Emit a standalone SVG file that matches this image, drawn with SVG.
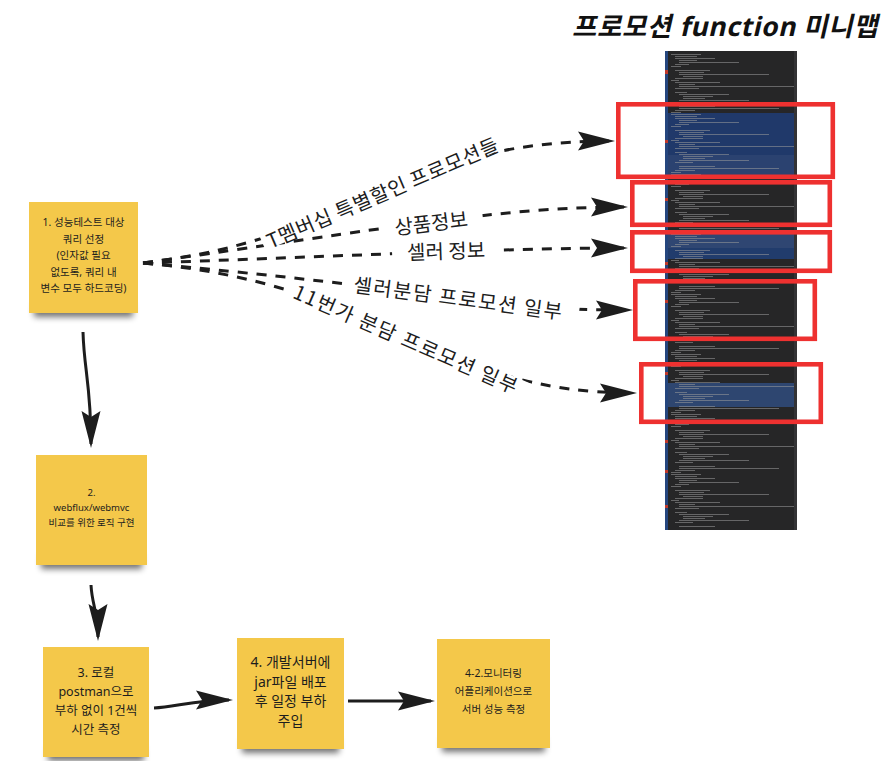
<svg xmlns="http://www.w3.org/2000/svg" width="894" height="761" viewBox="0 0 894 761">
<style>
.note{fill:#F4C84A}
.shadow{fill:#000;opacity:.55;filter:url(#blur)}
.nt{font-family:"Noto Sans","Noto Sans CJK KR",sans-serif;fill:#1d1d1d;text-anchor:middle}
.lbl{font-family:"Noto Sans CJK KR","Noto Sans",sans-serif;font-size:20px;fill:#1d1d1d;text-anchor:middle;dominant-baseline:central}
.lblbg{fill:#fff}
.dash{fill:none;stroke:#1d1d1d;stroke-width:3;stroke-dasharray:10 9;marker-end:url(#ah)}
.solid{fill:none;stroke:#1d1d1d;stroke-width:3;marker-end:url(#ah)}
.red{fill:none;stroke:#EE3130;stroke-width:4.6}
.code{fill:#9a9a9a;opacity:.55}
</style>
<defs>
<filter id="blur" x="-20%" y="-100%" width="140%" height="300%"><feGaussianBlur stdDeviation="3"/></filter>
<marker id="ah" markerUnits="userSpaceOnUse" markerWidth="42" markerHeight="22" refX="36" refY="10" orient="auto" overflow="visible">
<path d="M40,10 L3,0.5 L9,10 L3,19.5 Z" fill="#1d1d1d"/>
</marker>
<pattern id="codepat" patternUnits="userSpaceOnUse" x="667" y="54" width="130" height="60">
<rect class="code" x="4" y="0" width="30" height="1"/>
<rect class="code" x="8" y="2" width="22" height="1"/>
<rect class="code" x="8" y="4" width="40" height="1"/>
<rect class="code" x="12" y="6" width="18" height="1"/>
<rect class="code" x="12" y="8" width="60" height="1"/>
<rect class="code" x="8" y="10" width="14" height="1"/>
<rect class="code" x="4" y="12" width="10" height="1"/>
<rect class="code" x="8" y="16" width="35" height="1"/>
<rect class="code" x="12" y="18" width="25" height="1"/>
<rect class="code" x="12" y="20" width="90" height="1"/>
<rect class="code" x="16" y="22" width="20" height="1"/>
<rect class="code" x="8" y="24" width="28" height="1"/>
<rect class="code" x="4" y="26" width="8" height="1"/>
<rect class="code" x="8" y="28" width="45" height="1"/>
<rect class="code" x="12" y="30" width="16" height="1"/>
<rect class="code" x="12" y="32" width="120" height="1"/>
<rect class="code" x="8" y="34" width="24" height="1"/>
<rect class="code" x="8" y="38" width="12" height="1"/>
<rect class="code" x="12" y="40" width="50" height="1"/>
<rect class="code" x="16" y="42" width="30" height="1"/>
<rect class="code" x="16" y="44" width="22" height="1"/>
<rect class="code" x="12" y="46" width="70" height="1"/>
<rect class="code" x="8" y="48" width="18" height="1"/>
<rect class="code" x="12" y="52" width="36" height="1"/>
<rect class="code" x="12" y="54" width="100" height="1"/>
<rect class="code" x="8" y="56" width="20" height="1"/>
<rect class="code" x="4" y="58" width="10" height="1"/>
</pattern>
</defs>
<rect width="894" height="761" fill="#fff"/>

<!-- minimap -->
<g id="minimap">
<rect x="665" y="51" width="132" height="479" fill="#262627"/>
<rect x="668" y="113" width="126" height="42" fill="#20396a"/>
<rect x="668" y="155" width="126" height="20" fill="#2b4270"/>
<rect x="668" y="233" width="126" height="15" fill="#2f4672"/>
<rect x="668" y="248" width="126" height="11" fill="#213c6c"/>
<rect x="668" y="383" width="126" height="24" fill="#2e4670"/>
<rect x="667" y="53" width="127" height="474" fill="url(#codepat)"/>
<rect x="665" y="51" width="3" height="479" fill="#25467e"/>
<rect x="794" y="51" width="3" height="479" fill="#333335"/>
<rect x="665" y="70" width="3" height="4" fill="#c0392b"/>
<rect x="665" y="140" width="3" height="3" fill="#c0392b"/>
<rect x="665" y="198" width="3" height="3" fill="#c0392b"/>
<rect x="665" y="262" width="3" height="3" fill="#c0392b"/>
<rect x="665" y="300" width="3" height="3" fill="#c0392b"/>
<rect x="665" y="372" width="3" height="3" fill="#c0392b"/>
<rect x="665" y="440" width="3" height="3" fill="#c0392b"/>
<rect x="665" y="470" width="3" height="3" fill="#c0392b"/>
<rect x="665" y="505" width="3" height="3" fill="#c0392b"/>
</g>

<g id="title">
<text transform="translate(572,36) skewX(-13)" font-family="'Noto Sans','Noto Sans CJK KR',sans-serif" font-size="26.5" font-weight="bold" letter-spacing="0.6" fill="#111">프로모션 function 미니맵</text>
</g>

<g id="redboxes">
<rect class="red" x="618.3" y="104.3" width="214.5" height="72.5"/>
<rect class="red" x="632.3" y="182.3" width="197.5" height="42.5"/>
<rect class="red" x="632.3" y="232.3" width="197.5" height="38.5"/>
<rect class="red" x="635.3" y="281.3" width="179.5" height="57.5"/>
<rect class="red" x="641.3" y="364.3" width="179.5" height="57.5"/>
</g>

<g id="connectors">
<path class="dash" d="M143,263 C363,237 395,141 611,141"/>
<path class="dash" d="M143,263 C391,228 501,207 624,207"/>
<path class="dash" d="M143,263 C300,258 500,248 624,248"/>
<path class="dash" d="M143,263 C483,294 480,310 629,310"/>
<path class="dash" d="M143,263 C386,284 434,393 633,393"/>
<path class="solid" d="M83,332 C84,370 91,385 91,444"/>
<path class="solid" d="M91,585 C92,605 98,612 98,637"/>
<path class="solid" d="M154,708 C175,707 195,700 229,700"/>
<path class="solid" d="M348,701 L431,701"/>
<rect class="lblbg" transform="translate(382,192) rotate(-23.2)" x="-130" y="-8" width="268" height="16"/>
<rect class="lblbg" transform="translate(431,222) rotate(-7)" x="-48" y="-8" width="100" height="16"/>
<rect class="lblbg" transform="translate(446,250) rotate(-2)" x="-54" y="-8" width="110" height="16"/>
<rect class="lblbg" transform="translate(458,297) rotate(7.5)" x="-112" y="-8" width="234" height="16"/>
<rect class="lblbg" transform="translate(406,338) rotate(23.5)" x="-125" y="-8" width="266" height="16"/>
<text class="lbl" transform="translate(382,192) rotate(-23.2)" textLength="250" lengthAdjust="spacing">T멤버십 특별할인 프로모션들</text>
<text class="lbl" transform="translate(431,222) rotate(-7)">상품정보</text>
<text class="lbl" transform="translate(446,250) rotate(-2)">셀러 정보</text>
<text class="lbl" transform="translate(458,297) rotate(7.5)" textLength="210" lengthAdjust="spacing">셀러분담 프로모션 일부</text>
<text class="lbl" transform="translate(406,338) rotate(23.5)" textLength="242" lengthAdjust="spacing">11번가 분담 프로모션 일부</text>
</g>

<g id="note1">
<rect class="shadow" x="34" y="303" width="99" height="14"/>
<rect class="note" x="29" y="202" width="109" height="111"/>
<text class="nt" font-size="10.5"><tspan x="83.5" y="226">1. 성능테스트 대상</tspan><tspan x="83.5" y="242.5">쿼리 선정</tspan><tspan x="83.5" y="259">(인자값 필요</tspan><tspan x="83.5" y="275.5">없도록, 쿼리 내</tspan><tspan x="83.5" y="292">변수 모두 하드코딩)</tspan></text>
</g>
<g id="note2">
<rect class="shadow" x="41" y="555" width="101" height="14"/>
<rect class="note" x="36" y="455" width="111" height="110"/>
<text class="nt" font-size="9.5"><tspan x="91.5" y="495.5">2.</tspan><tspan x="91.5" y="510.5">webflux/webmvc</tspan><tspan x="91.5" y="525.5">비교를 위한 로직 구현</tspan></text>
</g>
<g id="note3">
<rect class="shadow" x="48" y="747" width="96" height="14"/>
<rect class="note" x="43" y="647" width="106" height="110"/>
<text class="nt" font-size="12.5"><tspan x="96" y="676.5">3. 로컬</tspan><tspan x="96" y="695.5">postman으로</tspan><tspan x="96" y="714.5">부하 없이 1건씩</tspan><tspan x="96" y="733.5">시간 측정</tspan></text>
</g>
<g id="note4">
<rect class="shadow" x="242" y="739" width="97" height="14"/>
<rect class="note" x="237" y="638" width="107" height="111"/>
<text class="nt" font-size="14"><tspan x="290.5" y="667">4. 개발서버에</tspan><tspan x="290.5" y="686.5">jar파일 배포</tspan><tspan x="290.5" y="706">후 일정 부하</tspan><tspan x="290.5" y="725.5">주입</tspan></text>
</g>
<g id="note5">
<rect class="shadow" x="442" y="738" width="103" height="14"/>
<rect class="note" x="437" y="639" width="113" height="109"/>
<text class="nt" font-size="10.5"><tspan x="493.5" y="677">4-2.모니터링</tspan><tspan x="493.5" y="695">어플리케이션으로</tspan><tspan x="493.5" y="713">서버 성능 측정</tspan></text>
</g>
</svg>
